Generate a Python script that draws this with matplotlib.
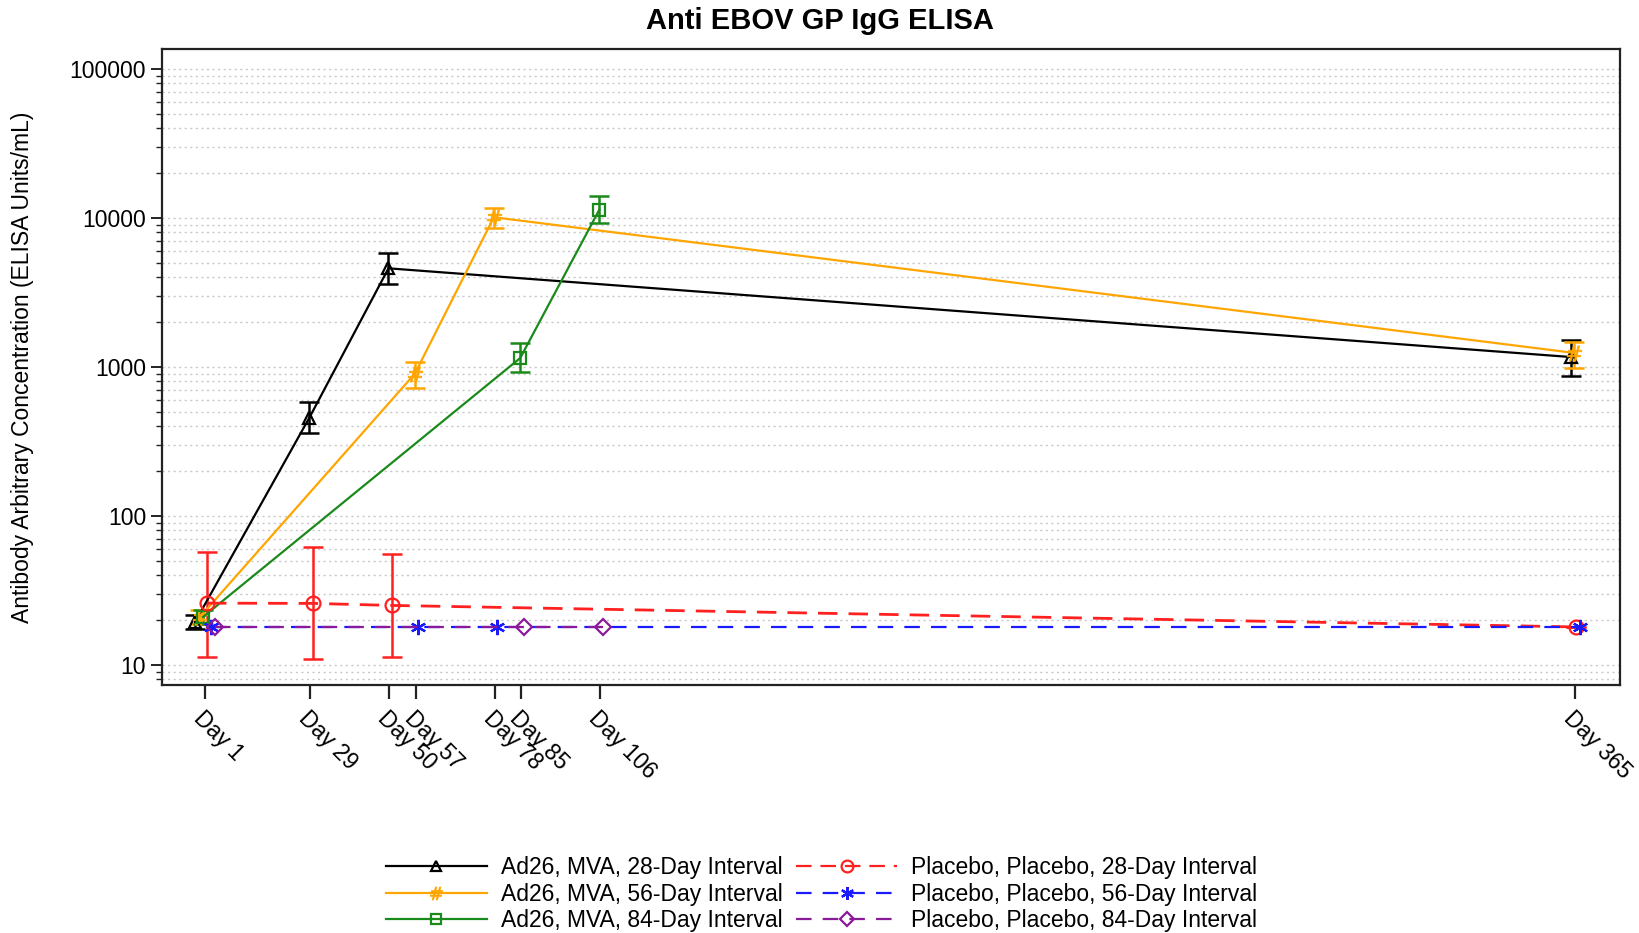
import matplotlib
matplotlib.use("Agg")
import matplotlib.pyplot as plt
from matplotlib.lines import Line2D
from matplotlib.ticker import LogLocator, NullFormatter, FuncFormatter
from matplotlib.transforms import ScaledTranslation
import numpy as np

plt.rcParams['font.family'] = ['Liberation Sans', 'DejaVu Sans']

# ---------------- data ----------------
tick_days = [1, 29, 50, 57, 78, 85, 106, 365]
tick_labels = ["Day 1", "Day 29", "Day 50", "Day 57", "Day 78", "Day 85", "Day 106", "Day 365"]

days_28 = [1, 29, 50, 365]
act28_gmc = [19.4, 457, 4590, 1165]
act28_lo = [17.5, 359, 3600, 872]
act28_hi = [21.5, 583, 5850, 1510]

days_56 = [1, 57, 78, 365]
act56_gmc = [21, 900, 10100, 1242]
act56_lo = [18.8, 718, 8620, 977]
act56_hi = [23.5, 1080, 11700, 1480]

days_84 = [1, 85, 106]
act84_gmc = [21, 1147, 11330]
act84_lo = [18.8, 930, 9180]
act84_hi = [23.5, 1437, 13970]

pbo28_days = [1, 29, 50, 365]
pbo28_gmc = [26, 25.9, 25.1, 18]
pbo28_lo = [11.4, 11.0, 11.4, 18]
pbo28_hi = [57, 62, 55.3, 18]

pbo56_days = [1, 57, 78, 365]
pbo56_gmc = [18, 18, 18, 18]

pbo84_days = [1, 85, 106]
pbo84_gmc = [18, 18, 18]

labels = ["Ad26, MVA, 28-Day Interval", "Ad26, MVA, 56-Day Interval", "Ad26, MVA, 84-Day Interval",
          "Placebo, Placebo, 28-Day Interval", "Placebo, Placebo, 56-Day Interval", "Placebo, Placebo, 84-Day Interval"]

# ---------------- layout ----------------
W, H = 1639, 933
FS = 16.5
fig = plt.figure(figsize=(W / 100, H / 100), dpi=100)
ax_l, ax_r, ax_t, ax_b = 162, 1620, 49, 685
ax = fig.add_axes([ax_l / W, 1 - ax_b / H, (ax_r - ax_l) / W, (ax_b - ax_t) / H])

px_per_day = (1575.2 - 205) / 364.0
x0 = 1 - (205 - ax_l) / px_per_day
x1 = 1 + (ax_r - 205) / px_per_day
ax.set_xlim(x0, x1)
ax.set_yscale('log')
ax.set_ylim(7.34, 1.36e5)

# cluster offsets (pixels) so overlapping groups stay visible
day1_off = [-10, -5, -2, 2, 6, 10]
d365_off = [-4, -1, 0, 1, 5, 0]
mid_off = [-1, -1, -1, 2.5, 2.5, 2.5]


def xs(days, gi):
    out = []
    for d in days:
        if d == 1:
            o = day1_off[gi]
        elif d == 365:
            o = d365_off[gi]
        else:
            o = mid_off[gi]
        out.append(d + o / px_per_day)
    return np.array(out)


asterisk = (6, 2, 0)

styles = [
    dict(color='black', marker='^', ms=9, mfc='none', mew=1.6, ls='-', lw=1.6),
    dict(color='#FFA500', marker="$\\#$", ms=11, mfc='#FFA500', mew=0.5, ls='-', lw=1.6),
    dict(color='#1A8A1A', marker='s', ms=9, mfc='none', mew=1.6, ls='-', lw=1.6),
    dict(color='#FF2020', marker='o', ms=10, mfc='none', mew=1.6, ls=(0, (7, 4)), lw=2.0),
    dict(color='#1A1AFF', marker=asterisk, ms=11, mfc='none', mew=1.6, ls=(0, (7, 5)), lw=1.6),
    dict(color='#8B1A9A', marker='D', ms=8, mfc='none', mew=1.6, ls=(0, (7, 5)), lw=1.6),
]

series = [
    (days_28, act28_gmc, act28_lo, act28_hi),
    (days_56, act56_gmc, act56_lo, act56_hi),
    (days_84, act84_gmc, act84_lo, act84_hi),
    (pbo28_days, pbo28_gmc, pbo28_lo, pbo28_hi),
    (pbo56_days, pbo56_gmc, None, None),
    (pbo84_days, pbo84_gmc, None, None),
]

# grid
ax.yaxis.set_major_locator(LogLocator(base=10, numticks=10))
ax.yaxis.set_minor_locator(LogLocator(base=10, subs=np.arange(2, 10), numticks=100))
ax.yaxis.set_minor_formatter(NullFormatter())
ax.yaxis.set_major_formatter(FuncFormatter(lambda v, p: f"{int(round(v))}"))
ax.grid(True, which='both', axis='y', color='#C8C8C8', ls=(0, (1.5, 2.5)), lw=1.0)
ax.set_axisbelow(True)

for gi, (d, g, lo, hi) in enumerate(series):
    st = styles[gi]
    x = xs(d, gi)
    g = np.array(g, dtype=float)
    if lo is not None:
        yerr = np.vstack([g - np.array(lo), np.array(hi) - g])
        ax.errorbar(x, g, yerr=yerr, fmt='none', ecolor=st['color'], elinewidth=1.8,
                    capsize=7.5, capthick=1.8, zorder=3)
    ax.plot(x, g, color=st['color'], ls=st['ls'], lw=st['lw'], marker=st['marker'],
            ms=st['ms'], mfc=st['mfc'], mec=st['color'], mew=st['mew'], zorder=4)

# axes styling
for s in ax.spines.values():
    s.set_linewidth(1.6)
    s.set_color('#222222')

ax.set_xticks(tick_days)
ax.set_xticklabels(tick_labels, rotation=-45, ha='left', va='top', rotation_mode='anchor', fontsize=FS)
off = ScaledTranslation(-13 / 100, 2 / 100, fig.dpi_scale_trans)
for lab in ax.get_xticklabels():
    lab.set_transform(lab.get_transform() + off)
ax.tick_params(axis='x', which='major', length=10, width=1.6, pad=6, color='#222222')
ax.tick_params(axis='y', which='major', length=8, width=1.4, labelsize=FS, color='#222222')
ax.tick_params(axis='y', which='minor', length=4, width=1.0, color='#222222')

ax.set_ylabel("Antibody Arbitrary Concentration (ELISA Units/mL)", fontsize=FS)
ax.yaxis.set_label_coords((34 - ax_l) / (ax_r - ax_l), 0.5)

fig.text(0.5, 1 - 21 / H, "Anti EBOV GP IgG ELISA", ha='center', va='center', fontsize=21, fontweight='bold')

# legend
handles = []
for st in styles:
    handles.append(Line2D([0], [0], color=st['color'], ls=st['ls'], lw=1.6,
                          marker=st['marker'], ms=st['ms'] * 0.85, mfc=st['mfc'], mec=st['color'], mew=st['mew']))
leg = fig.legend(handles, labels, loc='upper left', bbox_to_anchor=(386 / W, 1 - 856 / H), ncol=2, frameon=False,
                 fontsize=FS, handlelength=4.4, handletextpad=0.6, columnspacing=0.6, labelspacing=0.155,
                 borderpad=0.0, borderaxespad=0.0)

fig.savefig("out.png", dpi=100)
